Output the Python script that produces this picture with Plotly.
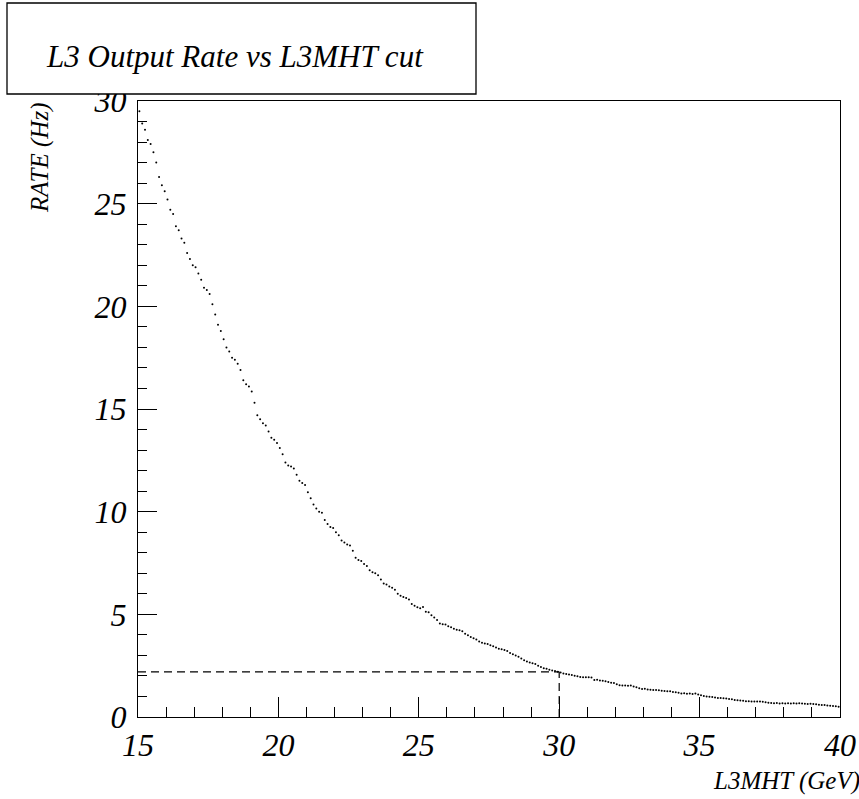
import numpy as np
import plotly.graph_objects as go

# L3 output rate (Hz) per 0.1 GeV bin of the L3MHT threshold, 15-40 GeV
x_lo = 15.0
bin_width = 0.1
rate_hz = [
    29.5, 28.9, 28.6, 28.1, 27.9, 27.5, 27.0, 26.3, 25.9, 25.6,
    25.2, 24.7, 24.5, 23.9, 23.7, 23.3, 23.1, 22.6, 22.3, 22.0,
    21.9, 21.6, 21.3, 20.9, 20.8, 20.6, 20.1, 19.6, 19.1, 18.8,
    18.4, 18.0, 17.8, 17.5, 17.4, 17.2, 16.9, 16.4, 16.2, 16.1,
    15.85, 15.3, 14.7, 14.5, 14.3, 14.2, 13.9, 13.6, 13.5, 13.35,
    13.1, 12.8, 12.4, 12.25, 12.2, 12.1, 11.8, 11.5, 11.4, 11.3,
    10.95, 10.65, 10.35, 10.15, 10.0, 9.95, 9.6, 9.4, 9.25, 9.2,
    9.0, 8.85, 8.6, 8.5, 8.4, 8.35, 8.1, 7.75, 7.65, 7.6,
    7.45, 7.35, 7.15, 7.05, 7.0, 6.9, 6.7, 6.5, 6.45, 6.35,
    6.3, 6.2, 6.0, 5.9, 5.85, 5.8, 5.72, 5.5, 5.42, 5.35,
    5.3, 5.36, 5.12, 5.1, 4.95, 4.85, 4.72, 4.55, 4.52, 4.5,
    4.42, 4.37, 4.3, 4.25, 4.22, 4.18, 4.05, 3.98, 3.9, 3.83,
    3.78, 3.68, 3.62, 3.58, 3.55, 3.5, 3.45, 3.38, 3.32, 3.3,
    3.26, 3.22, 3.12, 3.05, 3.0, 2.94, 2.85, 2.76, 2.7, 2.66,
    2.62, 2.58, 2.5, 2.44, 2.38, 2.35, 2.3, 2.27, 2.24, 2.2,
    2.17, 2.12, 2.1, 2.07, 2.04, 2.01, 1.98, 1.95, 1.93, 1.94,
    1.94, 1.92, 1.8, 1.82, 1.78, 1.77, 1.74, 1.7, 1.67, 1.65,
    1.6, 1.55, 1.53, 1.54, 1.52, 1.53, 1.48, 1.45, 1.4, 1.36,
    1.38, 1.34, 1.33, 1.31, 1.32, 1.3, 1.28, 1.27, 1.26, 1.25,
    1.22, 1.2, 1.18, 1.15, 1.16, 1.13, 1.14, 1.12, 1.15, 1.1,
    1.06, 1.02, 1.0, 0.99, 0.97, 0.95, 0.93, 0.92, 0.91, 0.9,
    0.88, 0.86, 0.83, 0.82, 0.8, 0.79, 0.77, 0.77, 0.76, 0.76,
    0.75, 0.75, 0.74, 0.72, 0.7, 0.68, 0.67, 0.68, 0.66, 0.67,
    0.66, 0.67, 0.66, 0.67, 0.66, 0.67, 0.66, 0.64, 0.63, 0.64,
    0.63, 0.62, 0.6, 0.59, 0.58, 0.56, 0.55, 0.54, 0.52, 0.5,
]

# chosen working point
cut_gev = 30.0
cut_rate_hz = 2.2

x_range = [15, 40]
y_range = [0, 30]

title_text = "L3 Output Rate vs L3MHT cut"
x_title = "L3MHT (GeV)"
y_title = "RATE (Hz)"

centers = x_lo + bin_width * (np.arange(len(rate_hz)) + 0.5)

serif = "Liberation Serif, Times New Roman, serif"
tick_font = dict(family=serif, size=32, color="black", style="italic")
label_font = dict(family=serif, size=25, color="black", style="italic")

fig = go.Figure()
fig.add_trace(go.Scatter(
    x=centers, y=rate_hz, mode="markers",
    marker=dict(size=2, color="black", line=dict(width=0)),
    hoverinfo="x+y", showlegend=False,
))

# dashed guide lines at the working point
guide = dict(color="black", width=1.2, dash="8px,5px")
fig.add_shape(type="line", xref="x", yref="y",
              x0=x_range[0], x1=cut_gev, y0=cut_rate_hz, y1=cut_rate_hz, line=guide)
fig.add_shape(type="line", xref="x", yref="y",
              x0=cut_gev, x1=cut_gev, y0=0, y1=cut_rate_hz, line=guide)

L, R, T, B = 138, 19, 101, 82
W, H = 859, 799
pw, ph = W - L - R, H - T - B


def px_x(p):
    return (p - L) / pw


def px_y(p):
    return (H - B - p) / ph


# title box
fig.add_shape(type="rect", xref="paper", yref="paper",
              x0=px_x(7), x1=px_x(476), y0=px_y(94), y1=px_y(3),
              line=dict(color="black", width=1.3), fillcolor="white")
fig.add_annotation(text=title_text, xref="paper", yref="paper",
                   x=px_x(235), y=px_y(56), xanchor="center", yanchor="middle",
                   showarrow=False,
                   font=dict(family=serif, size=31, color="black", style="italic"))

fig.add_annotation(text=y_title, xref="paper", yref="paper",
                   x=px_x(40), y=px_y(101), xanchor="center", yanchor="top",
                   textangle=-90, showarrow=False, font=label_font)
fig.add_annotation(text=x_title, xref="paper", yref="paper",
                   x=px_x(862), y=px_y(781), xanchor="right", yanchor="middle",
                   showarrow=False, font=label_font)

axis_common = dict(
    showgrid=False, zeroline=False, showline=True, linecolor="black", linewidth=1,
    mirror=True, ticks="inside", tickcolor="black", tickwidth=1,
    tickfont=tick_font, automargin=False,
)

fig.update_xaxes(range=x_range, dtick=5, tick0=15, ticklen=20,
                 minor=dict(dtick=1, ticks="inside", ticklen=10, tickcolor="black", tickwidth=1),
                 ticklabelstandoff=0, **axis_common)
fig.update_yaxes(range=y_range, dtick=5, tick0=0, ticklen=19,
                 minor=dict(dtick=1, ticks="inside", ticklen=9, tickcolor="black", tickwidth=1),
                 ticklabelstandoff=4, **axis_common)

fig.update_layout(
    width=W, height=H,
    margin=dict(l=L, r=R, t=T, b=B, pad=0, autoexpand=False),
    paper_bgcolor="white", plot_bgcolor="white",
    showlegend=False,
)

fig.write_html("out.html")
